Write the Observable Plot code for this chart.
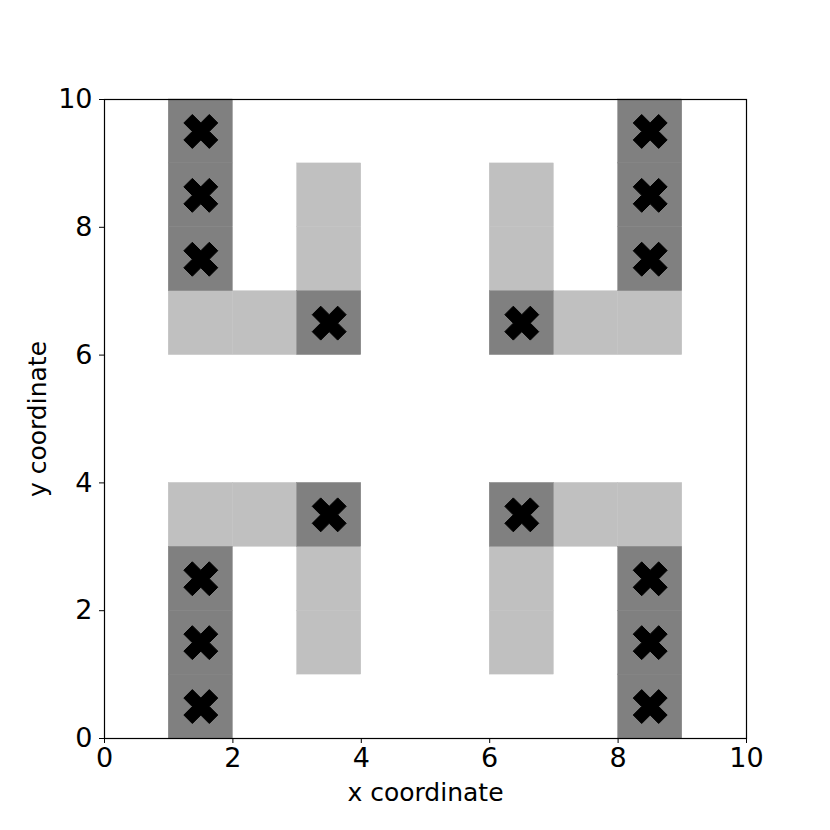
<!DOCTYPE html>
<html>
<head>
<meta charset="utf-8">
<script src="https://cdn.jsdelivr.net/npm/d3@7"></script>
<script src="https://cdn.jsdelivr.net/npm/@observablehq/plot@0.6"></script>
<style>
  html, body { margin: 0; padding: 0; background: #fff; }
</style>
</head>
<body>
<div id="chart"></div>
<script>
// Cell lower-left corners (each cell is 1x1)
const darkX  = [1, 1, 1, 3, 8, 8, 8, 6, 1, 1, 1, 3, 8, 8, 8, 6];
const darkY  = [7, 8, 9, 6, 7, 8, 9, 6, 0, 1, 2, 3, 0, 1, 2, 3];
const lightX = [1, 2, 3, 3, 7, 8, 6, 6, 1, 2, 3, 3, 7, 8, 6, 6];
const lightY = [6, 6, 7, 8, 6, 6, 7, 8, 3, 3, 1, 2, 3, 3, 1, 2];
const xTicks = [0, 2, 4, 6, 8, 10];
const yTicks = [0, 2, 4, 6, 8, 10];

const dark = darkX.map((x, i) => ({x, y: darkY[i]}));
const light = lightX.map((x, i) => ({x, y: lightY[i]}));

// matplotlib-style filled "X" marker
const xFilled = {
  draw(context, size) {
    const k = 6.0;
    const pts = [[-1,-3],[1,-3],[1,-1],[3,-1],[3,1],[1,1],[1,3],[-1,3],[-1,1],[-3,1],[-3,-1],[-1,-1]];
    const c = Math.SQRT1_2;
    pts.forEach(([px, py], i) => {
      const rx = (px - py) * c * k, ry = (px + py) * c * k;
      if (i === 0) context.moveTo(rx, ry); else context.lineTo(rx, ry);
    });
    context.closePath();
  }
};

const chart = Plot.plot({
  width: 830,
  height: 830,
  marginLeft: 104,
  marginRight: 84,
  marginTop: 99,
  marginBottom: 92,
  style: {fontFamily: "DejaVu Sans", color: "#000", background: "#fff"},
  x: {domain: [0, 10]},
  y: {domain: [0, 10]},
  marks: [
    Plot.rect(light, {x1: "x", x2: d => d.x + 1, y1: "y", y2: d => d.y + 1, fill: "#c0c0c0", stroke: "#c0c0c0", strokeWidth: 0.4, inset: 0}),
    Plot.rect(dark, {x1: "x", x2: d => d.x + 1, y1: "y", y2: d => d.y + 1, fill: "#808080", stroke: "#808080", strokeWidth: 0.4, inset: 0}),
    Plot.dot(dark, {x: d => d.x + 0.5, y: d => d.y + 0.5, symbol: xFilled, fill: "#000", stroke: "#000", strokeWidth: 1, strokeLinejoin: "round", r: 10}),
    Plot.frame({stroke: "#000", strokeWidth: 1.2}),
    Plot.axisX({ticks: xTicks, tickSize: 5, tickPadding: 4, label: "x coordinate", labelAnchor: "center", labelArrow: "none", labelOffset: 62}),
    Plot.axisY({ticks: yTicks, tickSize: 5, tickPadding: 7, label: "y coordinate", labelAnchor: "center", labelArrow: "none", labelOffset: 76})
  ]
});
chart.querySelectorAll("[aria-label='x-axis tick label'] text, [aria-label='y-axis tick label'] text").forEach(t => t.style.fontSize = "27px");
chart.querySelectorAll("[aria-label='x-axis label'] text, [aria-label='y-axis label'] text").forEach(t => t.style.fontSize = "25px");
document.getElementById("chart").appendChild(chart);
</script>
</body>
</html>
